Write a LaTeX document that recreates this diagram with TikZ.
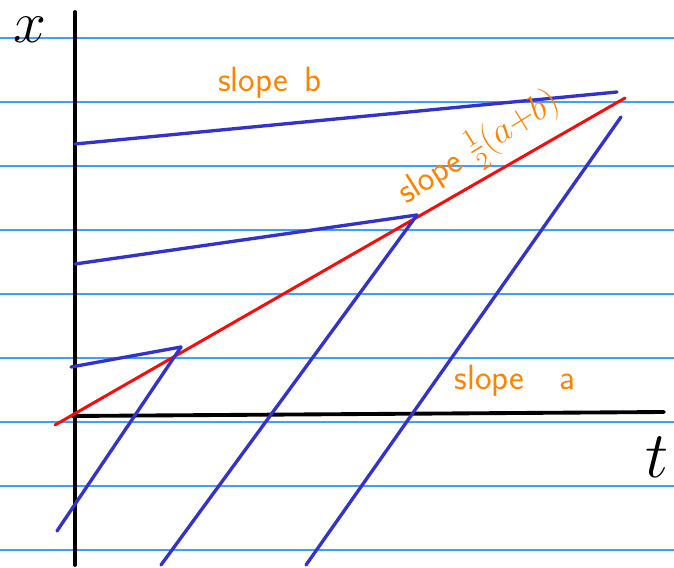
\documentclass[tikz,border=0pt]{standalone}
\usepackage{amsmath}
\usepackage{tikz}
\usetikzlibrary{calc}
\definecolor{PenBlue}{RGB}{51,51,204}
\definecolor{PenRed}{RGB}{250,10,10}
\definecolor{PenOrange}{RGB}{255,130,0}
\definecolor{RuleBlue}{RGB}{60,160,255}
\begin{document}
\begin{tikzpicture}[x=0.02cm,y=-0.02cm,line cap=round,rule/.style={RuleBlue,line width=0.7pt},axis/.style={black,line width=2.2pt},ray/.style={PenBlue,line width=1.9pt},front/.style={PenRed,line width=1.7pt},lbl/.style={PenOrange,font=\sffamily\fontsize{20}{24}\selectfont},axlbl/.style={font=\Huge,inner sep=0pt}]
\useasboundingbox (0,0) rectangle (674,568);
\foreach \y in {38,102,...,550} \draw[rule] (0,\y) -- (674,\y);
\coordinate (xtop) at (75,12);\coordinate (xbot) at (75,565);\coordinate (tl) at (72,416);\coordinate (tr) at (664,412);
\draw[axis] (xtop)--(xbot);\draw[axis] (tl)--(tr);
\node[axlbl] (xlbl) at (30,30) {\scalebox{1.35}{$x$}};
\node[axlbl] (tlbl) at (657,457) {\scalebox{1.5}{$t$}};
\coordinate (r0) at (55,425);\coordinate (r1) at (625,98);
\coordinate (p1) at (181,347);\coordinate (p2) at (417,215);
\coordinate (b1) at (71,367);\coordinate (b2) at (75,264);\coordinate (b3) at (75,144);\coordinate (b3e) at (617,92);
\coordinate (a1) at (57,531);\coordinate (a2) at (161,565);\coordinate (a3) at (306,565);\coordinate (a3e) at (621,117);
\draw[front] (r0)--(r1);
\draw[ray] (b1)--(p1);\draw[ray] (b2)--(p2);\draw[ray] (b3)--(b3e);
\draw[ray] (a1)--(p1);\draw[ray] (a2)--(p2);\draw[ray] (a3)--(a3e);
\node[lbl] (sb) at (270,83) {slope\, b};
\node[lbl] (sa) at (515,381) {slope\quad a};
\node[lbl,rotate=32] (sab) at (479,148) {slope $\tfrac{1}{2}(a{+}b)$};
\end{tikzpicture}
\end{document}
